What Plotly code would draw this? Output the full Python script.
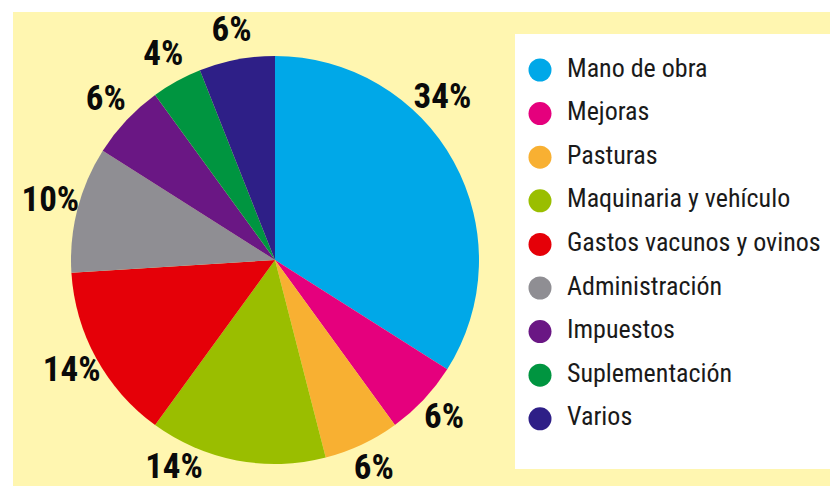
import plotly.graph_objects as go

# datos del gráfico (porcentaje de costos)
categorias = ["Mano de obra", "Mejoras", "Pasturas", "Maquinaria y vehículo",
              "Gastos vacunos y ovinos", "Administración", "Impuestos",
              "Suplementación", "Varios"]
porcentajes = [34, 6, 6, 14, 14, 10, 6, 4, 6]
colores = ["#00A8E8", "#E5007D", "#F8B032", "#9ABE00", "#E50008",
           "#8F8E93", "#6A1784", "#009540", "#2E1F87"]

W, H = 838, 486
OFF = 8  # margen del body de la página html
FONDO = "#FFF6B0"
fuente = "Roboto Condensed, DejaVu Sans Condensed, sans-serif"

# corrimiento (grados) de algunas etiquetas, como en el original
ajuste_etiqueta = {"Mano de obra": -15, "Maquinaria y vehículo": 15}


def px_x(a, b):
    return [(a - OFF) / W, (b - OFF) / W]


def px_y(top, bottom):
    return [(H - (bottom - OFF)) / H, (H - (top - OFF)) / H]


# angulo central de cada porción, para ubicar las etiquetas fuera de la torta
total = sum(porcentajes)
angulos = []
acum = 0
for cat, v in zip(categorias, porcentajes):
    angulos.append((acum + v / 2) / total * 360 + ajuste_etiqueta.get(cat, 0))
    acum += v

cx, cy, radio, radio_txt = 275, 260, 204, 232
dom_pie = dict(x=px_x(cx - radio, cx + radio), y=px_y(cy - radio, cy + radio))
dom_txt = dict(x=px_x(cx - radio_txt, cx + radio_txt), y=px_y(cy - radio_txt, cy + radio_txt))

fig = go.Figure()

fig.add_trace(go.Pie(
    labels=categorias,
    values=porcentajes,
    marker=dict(colors=colores, line=dict(width=0)),
    sort=False,
    direction="clockwise",
    rotation=0,
    textinfo="none",
    showlegend=False,
    hoverinfo="label+percent",
    domain=dom_pie,
))

# etiquetas de porcentaje en un eje polar centrado igual que la torta
fig.add_trace(go.Scatterpolar(
    r=[1] * len(porcentajes),
    theta=angulos,
    mode="text",
    text=[f"{v}%" for v in porcentajes],
    textposition="middle center",
    textfont=dict(family=fuente, size=35, color="#0a0a0a", weight="bold"),
    cliponaxis=False,
    showlegend=False,
    hoverinfo="skip",
))

# leyenda: círculos + textos
filas = list(range(len(categorias)))
fig.add_trace(go.Scatter(
    x=[25] * len(categorias), y=filas,
    mode="markers",
    marker=dict(size=23, color=colores, symbol="circle"),
    showlegend=False, hoverinfo="skip", cliponaxis=False,
))
fig.add_trace(go.Scatter(
    x=[52] * len(categorias), y=filas,
    mode="text",
    text=categorias,
    textposition="middle right",
    textfont=dict(family=fuente, size=26, color="#1a1a1a"),
    showlegend=False, hoverinfo="skip", cliponaxis=False,
))

leg_l, leg_r, leg_t, leg_b = 515, 831, 34, 469
fila = 43.6
alto = leg_b - leg_t
primera = 36

fig.update_layout(
    width=W, height=H,
    margin=dict(l=0, r=0, t=0, b=0, pad=0, autoexpand=False),
    paper_bgcolor="white",
    plot_bgcolor="rgba(0,0,0,0)",
    polar=dict(
        domain=dom_txt,
        bgcolor="rgba(0,0,0,0)",
        radialaxis=dict(range=[0, 1], visible=False),
        angularaxis=dict(rotation=90, direction="clockwise", visible=False),
    ),
    xaxis=dict(domain=px_x(leg_l, leg_r), range=[0, leg_r - leg_l],
               visible=False, fixedrange=True),
    yaxis=dict(domain=px_y(leg_t, leg_b), range=[(alto - primera) / fila, -primera / fila],
               visible=False, fixedrange=True),
    shapes=[
        dict(type="rect", xref="paper", yref="paper", x0=(13 - OFF) / W, x1=1,
             y0=0, y1=1 - (12 - OFF) / H,
             fillcolor=FONDO, line=dict(width=0), layer="below"),
        dict(type="rect", xref="x domain", yref="y domain", x0=0, x1=1, y0=0, y1=1,
             fillcolor="white", line=dict(width=0), layer="below"),
    ],
)

fig.write_html("out.html")
